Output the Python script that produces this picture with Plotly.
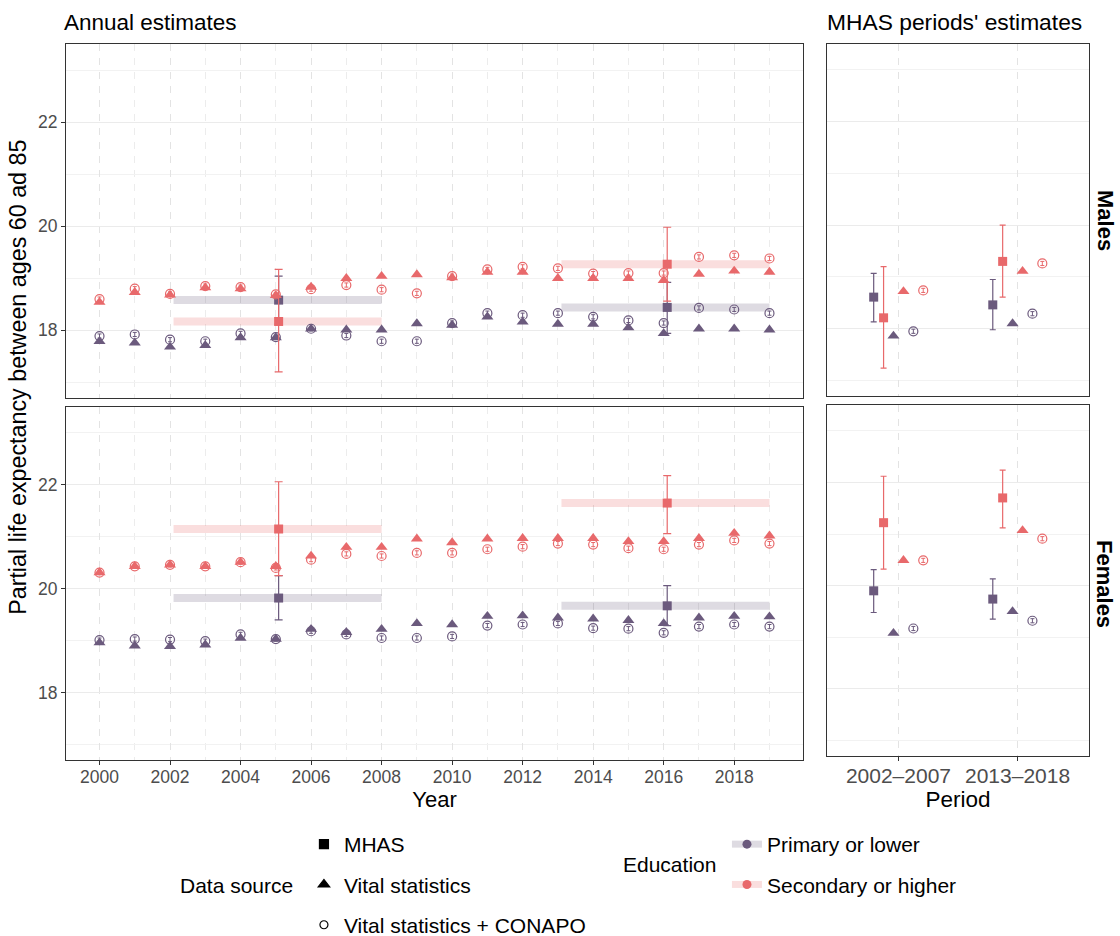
import plotly.graph_objects as go

# ---------------- data ----------------
years = list(range(2000, 2020))

male_vs_primary = [17.79, 17.76, 17.68, 17.71, 17.86, 17.86, 18.03, 18.01, 18.01, 18.13,
                   18.10, 18.26, 18.16, 18.12, 18.12, 18.05, 17.94, 18.03, 18.03, 18.01]
male_vs_secondary = [18.54, 18.73, 18.68, 18.82, 18.80, 18.67, 18.83, 19.00, 19.04, 19.07,
                     19.01, 19.12, 19.12, 19.00, 19.00, 19.00, 18.96, 19.08, 19.14, 19.12]
male_conapo_primary = [17.89, 17.92, 17.82, 17.79, 17.94, 17.87, 18.03, 17.90, 17.79, 17.79,
                       18.14, 18.33, 18.29, 18.33, 18.26, 18.19, 18.14, 18.43, 18.40, 18.33]
male_conapo_secondary = [18.60, 18.80, 18.70, 18.85, 18.83, 18.69, 18.79, 18.87, 18.78, 18.71,
                         19.04, 19.17, 19.22, 19.19, 19.09, 19.10, 19.10, 19.41, 19.44, 19.38]

female_vs_primary = [18.96, 18.90, 18.89, 18.92, 19.05, 19.03, 19.22, 19.16, 19.22, 19.33,
                     19.31, 19.47, 19.48, 19.44, 19.42, 19.39, 19.33, 19.44, 19.47, 19.46]
female_vs_secondary = [20.31, 20.43, 20.46, 20.43, 20.51, 20.43, 20.63, 20.80, 20.80, 20.96,
                       20.89, 20.96, 20.97, 20.97, 20.97, 20.91, 20.91, 20.97, 21.07, 21.02]
female_conapo_primary = [19.01, 19.03, 19.02, 18.99, 19.12, 19.03, 19.18, 19.12, 19.05, 19.05,
                         19.08, 19.29, 19.31, 19.33, 19.24, 19.23, 19.15, 19.27, 19.31, 19.27]
female_conapo_secondary = [20.31, 20.43, 20.46, 20.43, 20.51, 20.40, 20.56, 20.67, 20.63, 20.69,
                           20.69, 20.76, 20.81, 20.87, 20.85, 20.78, 20.76, 20.85, 20.93, 20.87]
conapo_half_ci = 0.04

# MHAS annual (wave) estimates
mhas_years = [2005.08, 2016.1]
period_starts = [2002.1, 2013.1]
period_ends = [2008.0, 2019.0]

male_mhas_primary = [18.58, 18.44]
male_mhas_primary_lo = [18.12, 17.94]
male_mhas_primary_hi = [19.04, 18.92]
male_mhas_secondary = [18.17, 19.27]
male_mhas_secondary_lo = [17.20, 18.56]
male_mhas_secondary_hi = [19.17, 19.98]

female_mhas_primary = [19.82, 19.67]
female_mhas_primary_lo = [19.40, 19.29]
female_mhas_primary_hi = [20.25, 20.06]
female_mhas_secondary = [21.15, 21.65]
female_mhas_secondary_lo = [20.25, 21.06]
female_mhas_secondary_hi = [22.06, 22.18]

# MHAS periods' estimates
periods = ["2002\u20132007", "2013\u20132018"]
p_male_mhas_primary = [18.61, 18.46]
p_male_mhas_primary_lo = [18.13, 17.98]
p_male_mhas_primary_hi = [19.07, 18.95]
p_male_mhas_secondary = [18.21, 19.30]
p_male_mhas_secondary_lo = [17.24, 18.61]
p_male_mhas_secondary_hi = [19.20, 20.00]
p_male_vs_primary = [17.86, 18.10]
p_male_vs_secondary = [18.72, 19.11]
p_male_conapo_primary = [17.95, 18.29]
p_male_conapo_secondary = [18.74, 19.26]

p_female_mhas_primary = [19.90, 19.74]
p_female_mhas_primary_lo = [19.48, 19.35]
p_female_mhas_primary_hi = [20.31, 20.13]
p_female_mhas_secondary = [21.22, 21.70]
p_female_mhas_secondary_lo = [20.32, 21.12]
p_female_mhas_secondary_hi = [22.12, 22.24]
p_female_vs_primary = [19.08, 19.50]
p_female_vs_secondary = [20.49, 21.07]
p_female_conapo_primary = [19.17, 19.32]
p_female_conapo_secondary = [20.49, 20.91]

# ---------------- style ----------------
PURPLE = "#6b5a7d"
RED = "#e8696b"
PURPLE_BAND = "rgba(107,90,125,0.22)"
RED_BAND = "rgba(232,105,107,0.22)"
FONT = "Liberation Sans, Arial, sans-serif"
DODGE = {"mhas_p": -0.208, "mhas_s": -0.125, "vs_p": -0.042,
         "vs_s": 0.042, "con_p": 0.125, "con_s": 0.208}

fig = go.Figure()


def err(vals, lo, hi):
    return dict(type="data", symmetric=False,
                array=[h - v for v, h in zip(vals, hi)],
                arrayminus=[v - l for v, l in zip(vals, lo)])


def small_err(vals):
    return dict(type="data", array=[conapo_half_ci] * len(vals), thickness=1, width=2)


def add_left(xa, ya, vs_p, vs_s, con_p, con_s, m_p, m_p_lo, m_p_hi, m_s, m_s_lo, m_s_hi):
    # period bands
    for vals, band in ((m_p, PURPLE_BAND), (m_s, RED_BAND)):
        bx, by = [], []
        for s, e, v in zip(period_starts, period_ends, vals):
            bx += [s, e, None]
            by += [v, v, None]
        fig.add_trace(go.Scatter(x=bx, y=by, mode="lines", line=dict(color=band, width=8),
                                 xaxis=xa, yaxis=ya, showlegend=False, hoverinfo="skip"))
    for col, vs, con, m, lo, hi in ((PURPLE, vs_p, con_p, m_p, m_p_lo, m_p_hi),
                                   (RED, vs_s, con_s, m_s, m_s_lo, m_s_hi)):
        fig.add_trace(go.Scatter(x=years, y=con, mode="markers",
                                 marker=dict(symbol="circle-open", size=9, color=col, line=dict(width=1.2, color=col)),
                                 error_y=dict(small_err(con), color=col),
                                 xaxis=xa, yaxis=ya, showlegend=False))
        fig.add_trace(go.Scatter(x=years, y=vs, mode="markers",
                                 marker=dict(symbol="triangle-up", size=10.5, color=col),
                                 xaxis=xa, yaxis=ya, showlegend=False))
        fig.add_trace(go.Scatter(x=mhas_years, y=m, mode="markers",
                                 marker=dict(symbol="square", size=9, color=col),
                                 error_y=dict(err(m, lo, hi), color=col, thickness=1.2, width=4),
                                 xaxis=xa, yaxis=ya, showlegend=False))


def add_right(xa, ya, mp, mp_lo, mp_hi, ms, ms_lo, ms_hi, vp, vs, cp, cs):
    pos = list(range(len(periods)))
    def xs(key):
        return [p + DODGE[key] for p in pos]
    fig.add_trace(go.Scatter(x=xs("mhas_p"), y=mp, mode="markers",
                             marker=dict(symbol="square", size=9, color=PURPLE),
                             error_y=dict(err(mp, mp_lo, mp_hi), color=PURPLE, thickness=1.2, width=3),
                             xaxis=xa, yaxis=ya, showlegend=False))
    fig.add_trace(go.Scatter(x=xs("mhas_s"), y=ms, mode="markers",
                             marker=dict(symbol="square", size=9, color=RED),
                             error_y=dict(err(ms, ms_lo, ms_hi), color=RED, thickness=1.2, width=3),
                             xaxis=xa, yaxis=ya, showlegend=False))
    fig.add_trace(go.Scatter(x=xs("vs_p"), y=vp, mode="markers",
                             marker=dict(symbol="triangle-up", size=10.5, color=PURPLE),
                             xaxis=xa, yaxis=ya, showlegend=False))
    fig.add_trace(go.Scatter(x=xs("vs_s"), y=vs, mode="markers",
                             marker=dict(symbol="triangle-up", size=10.5, color=RED),
                             xaxis=xa, yaxis=ya, showlegend=False))
    fig.add_trace(go.Scatter(x=xs("con_p"), y=cp, mode="markers",
                             marker=dict(symbol="circle-open", size=9, color=PURPLE, line=dict(width=1.2, color=PURPLE)),
                             error_y=dict(small_err(cp), color=PURPLE),
                             xaxis=xa, yaxis=ya, showlegend=False))
    fig.add_trace(go.Scatter(x=xs("con_s"), y=cs, mode="markers",
                             marker=dict(symbol="circle-open", size=9, color=RED, line=dict(width=1.2, color=RED)),
                             error_y=dict(small_err(cs), color=RED),
                             xaxis=xa, yaxis=ya, showlegend=False))


add_left("x", "y", male_vs_primary, male_vs_secondary, male_conapo_primary, male_conapo_secondary,
         male_mhas_primary, male_mhas_primary_lo, male_mhas_primary_hi,
         male_mhas_secondary, male_mhas_secondary_lo, male_mhas_secondary_hi)
add_left("x3", "y3", female_vs_primary, female_vs_secondary, female_conapo_primary, female_conapo_secondary,
         female_mhas_primary, female_mhas_primary_lo, female_mhas_primary_hi,
         female_mhas_secondary, female_mhas_secondary_lo, female_mhas_secondary_hi)
add_right("x2", "y2", p_male_mhas_primary, p_male_mhas_primary_lo, p_male_mhas_primary_hi,
          p_male_mhas_secondary, p_male_mhas_secondary_lo, p_male_mhas_secondary_hi,
          p_male_vs_primary, p_male_vs_secondary, p_male_conapo_primary, p_male_conapo_secondary)
add_right("x4", "y4", p_female_mhas_primary, p_female_mhas_primary_lo, p_female_mhas_primary_hi,
          p_female_mhas_secondary, p_female_mhas_secondary_lo, p_female_mhas_secondary_hi,
          p_female_vs_primary, p_female_vs_secondary, p_female_conapo_primary, p_female_conapo_secondary)

# ---------------- legends ----------------
src_items = [("MHAS", "square", 9), ("Vital statistics", "triangle-up", 10),
             ("Vital statistics + CONAPO", "circle-open", 8)]
for i, (name, sym, sz) in enumerate(src_items):
    fig.add_trace(go.Scatter(x=[None], y=[None], mode="markers", name=name, legend="legend",
                             legendgroup="src%d" % i,
                             marker=dict(symbol=sym, size=sz, color="black", line=dict(color="black", width=1.2))))
edu_items = [("Primary or lower", PURPLE, PURPLE_BAND), ("Secondary or higher", RED, RED_BAND)]
for i, (name, col, band) in enumerate(edu_items):
    fig.add_trace(go.Scatter(x=[None], y=[None], mode="lines+markers", name=name, legend="legend2",
                             legendgroup="edu%d" % i,
                             line=dict(color=band, width=7),
                             marker=dict(symbol="circle", size=9, color=col)))

# ---------------- layout ----------------
YR = [16.7, 23.5]
grid_y = dict(range=YR, dtick=2, tick0=18, showgrid=True, gridcolor="#ebebeb", gridwidth=1.3,
              minor=dict(dtick=1, tick0=17, showgrid=True, gridcolor="#f2f2f2", gridwidth=0.8),
              showline=True, mirror=True, linecolor="#333333", linewidth=1.2, zeroline=False,
              tickfont=dict(size=17.5, color="#4d4d4d"))
left_y = dict(grid_y, ticks="outside", ticklen=4, tickcolor="#333333", showticklabels=True)
right_y = dict(grid_y, ticks="", showticklabels=False)

left_x = dict(range=[1999.05, 2019.95], dtick=2, tick0=2000, showgrid=True, gridcolor="#e3e3e3",
              gridwidth=1.4, griddash="7px,7px",
              minor=dict(dtick=1, tick0=2000, showgrid=True, gridcolor="#ececec", gridwidth=0.9, griddash="7px,7px"),
              showline=True, mirror=True, linecolor="#333333", linewidth=1.2, zeroline=False,
              tickfont=dict(size=17.5, color="#4d4d4d"))
right_x = dict(range=[-0.6, 1.6], tickvals=[0, 1], ticktext=periods, showgrid=True, gridcolor="#e3e3e3",
               gridwidth=1.4, griddash="7px,7px",
               showline=True, mirror=True, linecolor="#333333", linewidth=1.2, zeroline=False,
               tickfont=dict(size=21, color="#4d4d4d"))

LX = [0, 0.7204]
RX = [0.7439, 1.0]

fig.update_layout(
    width=1120, height=936,
    margin=dict(l=66, r=31, t=44, b=176, autoexpand=False),
    paper_bgcolor="white", plot_bgcolor="white",
    font=dict(family=FONT, color="black"),
    xaxis=dict(left_x, domain=LX, anchor="y", showticklabels=False, ticks=""),
    yaxis=dict(left_y, domain=[0.5056, 1.0], anchor="x"),
    xaxis2=dict(right_x, domain=RX, anchor="y2", showticklabels=False, ticks=""),
    yaxis2=dict(right_y, domain=[0.5084, 1.0], anchor="x2"),
    xaxis3=dict(left_x, domain=LX, anchor="y3", ticks="outside", ticklen=4, tickcolor="#333333",
                ticklabelstandoff=-3,
                title=dict(text="Year", font=dict(size=22), standoff=2)),
    yaxis3=dict(left_y, domain=[0.0, 0.493], anchor="x3"),
    xaxis4=dict(right_x, domain=RX, anchor="y4", ticks="outside", ticklen=4, tickcolor="#333333",
                ticklabelstandoff=-3,
                title=dict(text="Period", font=dict(size=22.5), standoff=2)),
    yaxis4=dict(right_y, domain=[0.0056, 0.4958], anchor="x4"),
    legend=dict(x=0.2326, y=-0.0894, xanchor="left", yanchor="top", orientation="v",
                font=dict(size=21, color="black"), tracegroupgap=10, bgcolor="rgba(0,0,0,0)"),
    legend2=dict(x=0.6461, y=-0.0894, xanchor="left", yanchor="top", orientation="v",
                 font=dict(size=21, color="black"), tracegroupgap=10, bgcolor="rgba(0,0,0,0)"),
    showlegend=True,
)

ann = [
    dict(text="Annual estimates", x=-0.0039, y=1.0307, xanchor="left", yanchor="middle", font=dict(size=22.5)),
    dict(text="MHAS periods' estimates", x=0.742, y=1.0307, xanchor="left", yanchor="middle", font=dict(size=22.8)),
    dict(text="<b>Males</b>", x=1.0156, y=0.7528, xanchor="center", yanchor="middle", textangle=90, font=dict(size=22)),
    dict(text="<b>Females</b>", x=1.0156, y=0.2458, xanchor="center", yanchor="middle", textangle=90, font=dict(size=22)),
    dict(text="Partial life expectancy between ages 60 ad 85", x=-0.047, y=0.535, xanchor="center",
         yanchor="middle", textangle=-90, font=dict(size=23.3)),
    dict(text="Data source", x=0.2239, y=-0.1746, xanchor="right", yanchor="middle", font=dict(size=21)),
    dict(text="Education", x=0.6373, y=-0.1466, xanchor="right", yanchor="middle", font=dict(size=21)),
]
for a in ann:
    fig.add_annotation(dict(a, xref="paper", yref="paper", showarrow=False))

fig.write_html("out.html", config={"displayModeBar": False},
               post_script="document.body.style.margin='0px';")
